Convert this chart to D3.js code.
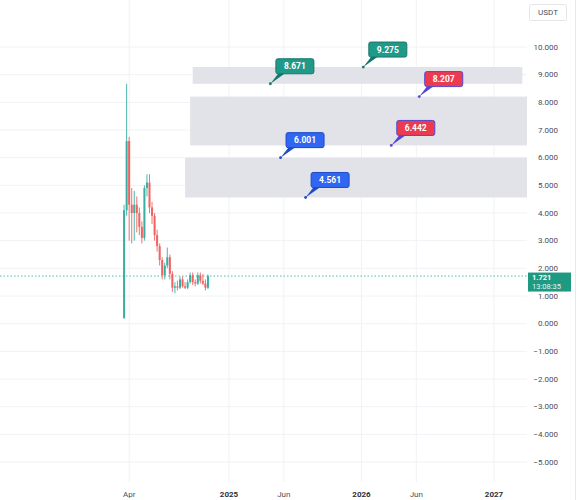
<!DOCTYPE html>
<html>
<head>
<meta charset="utf-8">
<script src="https://cdn.jsdelivr.net/npm/d3@7"></script>
<style>
  html, body { margin: 0; padding: 0; background: #fff; }
  svg { display: block; font-family: Roboto, "Liberation Sans", sans-serif; }
  .axis-label { fill: #4a4e5a; font-size: 8px; }
  .axis-label.year { font-weight: 700; fill: #2a2e39; }
</style>
</head>
<body>
<div id="chart"></div>
<script>
// weekly candles, USDT
const candleDates = [
  "2024-03-18", "2024-03-25", "2024-04-01", "2024-04-08", "2024-04-15", "2024-04-22",
  "2024-04-29", "2024-05-06", "2024-05-13", "2024-05-20", "2024-05-27", "2024-06-03",
  "2024-06-10", "2024-06-17", "2024-06-24", "2024-07-01", "2024-07-08", "2024-07-15",
  "2024-07-22", "2024-07-29", "2024-08-05", "2024-08-12", "2024-08-19", "2024-08-26",
  "2024-09-02", "2024-09-09", "2024-09-16", "2024-09-23", "2024-09-30", "2024-10-07",
  "2024-10-14", "2024-10-21", "2024-10-28", "2024-11-04",
];
const openValues = [
  0.2, 4.1, 6.6, 4.3, 4.0, 4.3, 4.0, 3.5, 3.1, 4.9, 5.1, 4.2, 3.9, 3.2, 2.8, 2.3, 1.75,
  2.1, 2.4, 1.8, 1.3, 1.35, 1.3, 1.6, 1.35, 1.3, 1.5, 1.75, 1.5, 1.45, 1.75, 1.55, 1.45, 1.3,
];
const highValues = [
  4.3, 8.671, 6.75, 4.9, 4.8, 4.6, 4.2, 3.7, 5.0, 5.4, 5.4, 4.4, 4.0, 3.4, 2.9, 2.4, 2.2,
  2.75, 2.5, 1.9, 1.5, 1.55, 1.7, 1.7, 1.5, 1.6, 1.85, 1.85, 1.6, 1.85, 1.85, 1.8, 1.6, 1.78,
];
const lowValues = [
  0.18, 3.9, 3.0, 2.9, 3.0, 3.3, 3.2, 2.9, 3.0, 4.6, 4.0, 3.6, 3.0, 2.6, 2.1, 1.6, 1.6,
  2.0, 1.6, 1.15, 1.1, 1.2, 1.25, 1.3, 1.25, 1.25, 1.45, 1.4, 1.35, 1.4, 1.45, 1.4, 1.2, 1.25,
];
const closeValues = [
  4.1, 6.6, 4.3, 4.0, 4.3, 4.0, 3.5, 3.1, 4.9, 5.1, 4.2, 3.9, 3.2, 2.8, 2.3, 1.75, 2.1,
  2.4, 1.8, 1.3, 1.35, 1.3, 1.6, 1.35, 1.3, 1.5, 1.75, 1.5, 1.45, 1.75, 1.55, 1.45, 1.3, 1.721,
];

// gray zones
const zoneLow = [8.671, 6.442, 4.561];
const zoneHigh = [9.275, 8.207, 6.001];
const zoneStart = ["2024-09-23", "2024-09-16", "2024-09-02"];
const zoneEnd = ["2027-03-20", "2027-04-30", "2027-04-30"];

// price callouts
const labelValues = [8.671, 9.275, 8.207, 6.442, 6.001, 4.561];
const labelDates = ["2025-04-25", "2026-01-06", "2026-06-09", "2026-03-24", "2025-05-23", "2025-07-31"];
const labelKinds = ["green", "green", "red", "red", "blue", "blue"];

const priceTicks = d3.range(-5, 11);
const timeTicks = [
  ["2024-04-01", "Apr", false],
  ["2025-01-01", "2025", true],
  ["2025-06-01", "Jun", false],
  ["2026-01-01", "2026", true],
  ["2026-06-01", "Jun", false],
  ["2027-01-01", "2027", true],
];
const lastPrice = 1.721;
const countdown = "13:08:35";
const currency = "USDT";

const width = 578;
const height = 500;
const plotRight = 527;
const up = "#26a69a";
const down = "#ef5350";
const kindColors = {
  green: { fill: "#1f9a89", stroke: "#17766b" },
  red: { fill: "#ec3b4f", stroke: "#5448d0" },
  blue: { fill: "#2f66f2", stroke: "#1f4bc4" },
};

const parse = d3.utcParse("%Y-%m-%d");
const x = d3
  .scaleUtc()
  .domain([parse("2025-01-01"), parse("2027-01-01")])
  .range([229, 494]);
const y = d3.scaleLinear().domain([-5, 10]).range([462, 47]);

const svg = d3
  .select("#chart")
  .append("svg")
  .attr("width", width)
  .attr("height", height)
  .attr("viewBox", [0, 0, width, height]);

svg
  .append("clipPath")
  .attr("id", "plot-clip")
  .append("rect")
  .attr("x", 0)
  .attr("y", 0)
  .attr("width", plotRight)
  .attr("height", 482);

// grid
const gGrid = svg.append("g").attr("class", "grid");
gGrid
  .selectAll(".h-grid")
  .data(priceTicks)
  .join("line")
  .attr("class", "h-grid")
  .attr("x1", 0)
  .attr("x2", plotRight)
  .attr("y1", (d) => y(d))
  .attr("y2", (d) => y(d))
  .attr("stroke", "#f0f2f6");
gGrid
  .selectAll(".v-grid")
  .data(timeTicks)
  .join("line")
  .attr("class", "v-grid")
  .attr("x1", (d) => x(parse(d[0])))
  .attr("x2", (d) => x(parse(d[0])))
  .attr("y1", 0)
  .attr("y2", 482)
  .attr("stroke", "#f0f2f6");

const plot = svg.append("g").attr("clip-path", "url(#plot-clip)");

// zones
plot
  .append("g")
  .selectAll("rect")
  .data(zoneLow.map((d, i) => ({ low: d, high: zoneHigh[i], start: zoneStart[i], end: zoneEnd[i] })))
  .join("rect")
  .attr("x", (d) => x(parse(d.start)))
  .attr("width", (d) => x(parse(d.end)) - x(parse(d.start)))
  .attr("y", (d) => y(d.high))
  .attr("height", (d) => y(d.low) - y(d.high))
  .attr("fill", "#e1e3e8");

// last price line
plot
  .append("line")
  .attr("x1", 0)
  .attr("x2", plotRight)
  .attr("y1", y(lastPrice))
  .attr("y2", y(lastPrice))
  .attr("stroke", up)
  .attr("stroke-width", 0.8)
  .attr("stroke-dasharray", "1.5,2");

// candles
const candles = candleDates.map((d, i) => ({
  date: parse(d),
  open: openValues[i],
  high: highValues[i],
  low: lowValues[i],
  close: closeValues[i],
}));
const gCandle = plot
  .append("g")
  .selectAll("g")
  .data(candles)
  .join("g")
  .attr("transform", (d) => `translate(${x(d.date)},0)`)
  .attr("opacity", 0.9);
gCandle
  .append("line")
  .attr("y1", (d) => y(d.high))
  .attr("y2", (d) => y(d.low))
  .attr("stroke", (d) => (d.close >= d.open ? up : down))
  .attr("stroke-width", 0.9);
gCandle
  .append("rect")
  .attr("x", -1)
  .attr("width", 2)
  .attr("y", (d) => y(Math.max(d.open, d.close)))
  .attr("height", (d) => Math.max(1, Math.abs(y(d.open) - y(d.close))))
  .attr("fill", (d) => (d.close >= d.open ? up : down));

// callouts
const boxW = 38;
const boxH = 15;
const callout = plot
  .append("g")
  .selectAll("g")
  .data(labelValues.map((d, i) => ({ value: d, date: parse(labelDates[i]), kind: labelKinds[i] })))
  .join("g")
  .attr("transform", (d) => `translate(${x(d.date)},${y(d.value)})`);
callout
  .append("path")
  .attr("d", `M0,0L${5.5 + 3},-11L${5.5 + 10},-11Z`)
  .attr("fill", (d) => kindColors[d.kind].stroke);
callout
  .append("rect")
  .attr("x", 5.5)
  .attr("y", -10 - boxH)
  .attr("width", boxW)
  .attr("height", boxH)
  .attr("rx", 2)
  .attr("fill", (d) => kindColors[d.kind].fill)
  .attr("stroke", (d) => kindColors[d.kind].stroke)
  .attr("stroke-width", 1);
callout
  .append("circle")
  .attr("r", 1.4)
  .attr("fill", (d) => kindColors[d.kind].stroke);
callout
  .append("text")
  .attr("x", 5.5 + boxW / 2)
  .attr("y", -10 - boxH / 2)
  .attr("dy", "0.35em")
  .attr("text-anchor", "middle")
  .attr("fill", "#fff")
  .attr("font-size", 8.5)
  .attr("font-weight", 700)
  .text((d) => d3.format(".3f")(d.value));

// price axis
const fmt = (d) => d3.format(".3f")(d).replace("-", "\u2212");
svg
  .append("g")
  .selectAll("text")
  .data(priceTicks)
  .join("text")
  .attr("class", "axis-label")
  .attr("x", 558)
  .attr("y", (d) => y(d))
  .attr("dy", "0.35em")
  .attr("text-anchor", "end")
  .text(fmt);

svg
  .append("line")
  .attr("x1", 575.5)
  .attr("x2", 575.5)
  .attr("y1", 0)
  .attr("y2", height)
  .attr("stroke", "#e6e8ee");

// currency badge
svg
  .append("rect")
  .attr("x", 529.5)
  .attr("y", 4.5)
  .attr("width", 37)
  .attr("height", 16)
  .attr("rx", 2)
  .attr("fill", "#fff")
  .attr("stroke", "#e4e6ec");
svg
  .append("text")
  .attr("class", "axis-label")
  .attr("x", 548)
  .attr("y", 12.5)
  .attr("dy", "0.35em")
  .attr("text-anchor", "middle")
  .attr("font-size", 7.5)
  .text(currency);

// last price badge
const gLast = svg.append("g").attr("transform", `translate(528,${y(lastPrice) - 3.5})`);
gLast.append("rect").attr("width", 43).attr("height", 19).attr("fill", "#1e9a82");
gLast
  .append("text")
  .attr("x", 4)
  .attr("y", 7.5)
  .attr("fill", "#fff")
  .attr("font-size", 7.5)
  .attr("font-weight", 700)
  .text(d3.format(".3f")(lastPrice));
gLast
  .append("text")
  .attr("x", 4)
  .attr("y", 16.5)
  .attr("fill", "#e8f6f3")
  .attr("font-size", 7.5)
  .text(countdown);

// time axis
svg
  .append("g")
  .selectAll("text")
  .data(timeTicks)
  .join("text")
  .attr("class", (d) => (d[2] ? "axis-label year" : "axis-label"))
  .attr("x", (d) => x(parse(d[0])))
  .attr("y", 494)
  .attr("dy", "0.35em")
  .attr("text-anchor", "middle")
  .text((d) => d[1]);
</script>
</body>
</html>
